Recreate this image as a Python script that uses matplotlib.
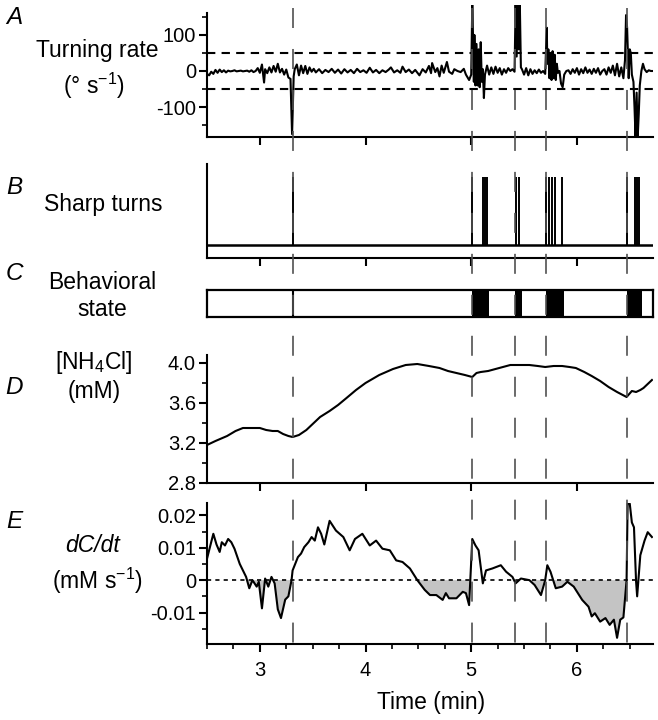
import numpy as np
import matplotlib
matplotlib.use("Agg")
import matplotlib.pyplot as plt
from matplotlib.lines import Line2D
from matplotlib.transforms import blended_transform_factory
from matplotlib.ticker import MultipleLocator, FixedLocator

plt.rcParams['font.family'] = ['Liberation Sans', 'DejaVu Sans']
plt.rcParams['axes.unicode_minus'] = False
plt.rcParams['mathtext.fontset'] = 'custom'
plt.rcParams['mathtext.rm'] = 'Liberation Sans'
plt.rcParams['mathtext.it'] = 'Liberation Sans:italic'

# ---------------- data ----------------
event_times = [3.31, 5.01, 5.41, 5.71, 6.47]

turn_t = [2.50, 2.52, 2.54, 2.56, 2.58, 2.60, 2.62, 2.64, 2.66, 2.68, 2.70, 2.72, 2.74, 2.76,
          2.78, 2.80, 2.82, 2.84, 2.86, 2.88, 2.90, 2.92, 2.94, 2.96, 2.98, 3.00, 3.02, 3.04,
          3.05, 3.07, 3.09, 3.11, 3.13, 3.15, 3.17, 3.19, 3.21, 3.23, 3.25, 3.27, 3.29, 3.305,
          3.32, 3.33, 3.35, 3.37, 3.39, 3.41, 3.43, 3.45, 3.47, 3.49, 3.51, 3.53, 3.56, 3.59,
          3.62, 3.65, 3.68, 3.71, 3.74, 3.77, 3.80, 3.83, 3.86, 3.89, 3.92, 3.95, 3.98, 4.01,
          4.04, 4.07, 4.10, 4.13, 4.16, 4.19, 4.22, 4.24, 4.27, 4.30, 4.33, 4.35, 4.38, 4.41,
          4.44, 4.47, 4.51, 4.54, 4.57, 4.60, 4.62, 4.63, 4.66, 4.68, 4.70, 4.72, 4.74, 4.77,
          4.79, 4.82, 4.84, 4.87, 4.90, 4.93, 4.95, 4.98, 5.00, 5.01, 5.02, 5.025, 5.03, 5.04,
          5.05, 5.06, 5.07, 5.08, 5.09, 5.10, 5.11, 5.12, 5.13, 5.15, 5.17, 5.19, 5.21, 5.23,
          5.25, 5.27, 5.29, 5.31, 5.33, 5.35, 5.37, 5.39, 5.41, 5.42, 5.43, 5.44, 5.45, 5.46,
          5.47, 5.48, 5.50, 5.52, 5.54, 5.56, 5.58, 5.60, 5.62, 5.64, 5.66, 5.68,
          5.70, 5.715, 5.72, 5.73, 5.74, 5.75, 5.76, 5.77, 5.78, 5.79, 5.80, 5.81, 5.82, 5.835,
          5.85, 5.865, 5.88, 5.90, 5.92, 5.94, 5.96, 5.98, 6.00, 6.02, 6.04, 6.06, 6.08, 6.10,
          6.12, 6.14, 6.16, 6.18, 6.20, 6.22, 6.24, 6.26, 6.28, 6.30, 6.32, 6.34, 6.36, 6.38,
          6.40, 6.42, 6.44, 6.455, 6.465, 6.475, 6.485, 6.49, 6.50, 6.51, 6.52, 6.535, 6.545,
          6.555, 6.565, 6.575, 6.585, 6.595, 6.61, 6.625, 6.64, 6.66, 6.68, 6.70, 6.72]
turn_v = [-8, -12, -2, -8, 3, -5, 4, -3, 2, -4, 1, -1, 0, 2,
          -1, 0, 1, -1, 0, 1, -2, 2, -3, 0, 8, -5, 18, -32,
          5, -6, 10, -4, 14, -2, 20, -4, 6, -10, 4, -18, -22, -175,
          -15, 5, 18, -12, 15, -6, 14, -8, 10, -2, 6, -4, 5, -6,
          3, -3, 6, -5, 4, -7, 5, -4, 3, -6, 6, -3, 2, -5,
          9, -4, 3, -6, 2, -3, 4, 10, -4, 2, -5, 12, -3, 4,
          -6, 3, -12, 5, -4, 14, -6, 22, -3, 8, -15, 15, -5, 25,
          -2, -8, 5, 0, -3, 6, -10, -25, -10, 185, 60, -30, 100, -40,
          75, -40, 60, -45, 80, -30, 5, -75, -10, 15, -10, 10, -8, 12,
          -5, 8, -10, 5, -5, 8, 0, 5, -2, 185, 40, 185, 60, 185,
          10, 5, -10, 8, -12, 5, -8, 2, -6, 4, -5, 0,
          -8, 120, 20, 60, -20, 50, -25, 55, -20, 45, -25, 20, -5, 0,
          -35, -45, -10, 0, 2, -8, 5, -5, 8, -10, 5, -6, 10, -5,
          4, -8, 6, -5, 8, -10, 0, 5, -10, 10, -5, 15, -12, 20,
          -15, 10, -20, 30, 155, 120, 20, -20, 60, 50, -10, -30, -100,
          -185, -60, -185, -120, -40, 0, 20, 5, -3, 2, 0, 0]

sharp_turn_times = [3.31, 5.01, 5.11, 5.13, 5.15, 5.42, 5.45, 5.71, 5.74, 5.76, 5.79,
                    5.86, 6.47, 6.55, 6.57, 6.59]

state_starts = [5.01, 5.41, 5.71, 6.47]
state_ends = [5.17, 5.48, 5.88, 6.62]

conc_t = [2.50, 2.58, 2.69, 2.77, 2.84, 2.92, 3.00, 3.06, 3.12, 3.17, 3.22, 3.27, 3.31,
          3.37, 3.44, 3.50, 3.57, 3.66, 3.74, 3.82, 3.91, 4.00, 4.13, 4.26, 4.38, 4.49,
          4.60, 4.70, 4.78, 4.86, 4.94, 5.01, 5.05, 5.09, 5.16, 5.23, 5.30, 5.37, 5.46,
          5.55, 5.63, 5.70, 5.78, 5.86, 5.93, 5.99, 6.07, 6.14, 6.22, 6.30, 6.38, 6.47,
          6.52, 6.56, 6.60, 6.63, 6.67, 6.71]
conc_v = [3.18, 3.22, 3.27, 3.32, 3.35, 3.35, 3.35, 3.33, 3.32, 3.32, 3.29, 3.27, 3.26,
          3.28, 3.33, 3.39, 3.46, 3.52, 3.58, 3.65, 3.73, 3.80, 3.88, 3.94, 3.98, 3.99,
          3.97, 3.95, 3.92, 3.90, 3.88, 3.86, 3.90, 3.91, 3.92, 3.94, 3.96, 3.98, 3.98,
          3.98, 3.97, 3.96, 3.97, 3.97, 3.96, 3.95, 3.91, 3.87, 3.82, 3.76, 3.71, 3.66,
          3.72, 3.71, 3.73, 3.75, 3.79, 3.83]

dcdt_t = [2.50, 2.52, 2.56, 2.59, 2.62, 2.64, 2.67, 2.70, 2.73, 2.76, 2.81, 2.87, 2.90,
          2.93, 2.97, 2.99, 3.02, 3.05, 3.08, 3.11, 3.14, 3.17, 3.20, 3.24, 3.27, 3.30,
          3.31, 3.36, 3.39, 3.42, 3.46, 3.49, 3.52, 3.55, 3.58, 3.61, 3.66, 3.72, 3.79,
          3.85, 3.90, 3.97, 4.04, 4.10, 4.16, 4.23, 4.29, 4.35, 4.42, 4.49, 4.56, 4.61,
          4.67, 4.73, 4.76, 4.79, 4.86, 4.92, 4.95, 4.98, 5.01, 5.04, 5.07, 5.11, 5.14,
          5.20, 5.28, 5.33, 5.39, 5.42, 5.47, 5.55, 5.60, 5.66, 5.70, 5.72, 5.75, 5.80,
          5.86, 5.91, 5.97, 6.05, 6.11, 6.14, 6.17, 6.22, 6.27, 6.31, 6.35, 6.38, 6.41,
          6.44, 6.47, 6.48, 6.50, 6.52, 6.54, 6.56, 6.57, 6.60, 6.64, 6.67, 6.71]
dcdt_v = [0.0066, 0.0092, 0.0143, 0.0110, 0.0087, 0.0117, 0.0107, 0.0127, 0.0117, 0.0097,
          0.0050, 0.0010, -0.0025, 0.0000, -0.0020, -0.0005, -0.0087, 0.0005, -0.0020,
          0.0010, -0.0010, -0.0090, -0.0117, -0.0060, -0.0050, 0.0000, 0.0030, 0.0071,
          0.0082, 0.0102, 0.0117, 0.0133, 0.0122, 0.0163, 0.0143, 0.0110, 0.0183, 0.0153,
          0.0133, 0.0092, 0.0127, 0.0143, 0.0107, 0.0122, 0.0097, 0.0092, 0.0061, 0.0056,
          0.0036, 0.0000, -0.0030, -0.0046, -0.0046, -0.0061, -0.0040, -0.0056, -0.0056,
          -0.0036, -0.0040, -0.0077, 0.0127, 0.0107, 0.0092, -0.0010, 0.0030, 0.0036,
          0.0046, 0.0026, 0.0010, -0.0010, 0.0005, 0.0000, -0.0015, -0.0046, 0.0000,
          0.0046, 0.0026, -0.0025, -0.0020, -0.0005, -0.0020, -0.0061, -0.0082, -0.0112,
          -0.0102, -0.0128, -0.0117, -0.0138, -0.0122, -0.0178, -0.0122, -0.0115, 0.0000,
          0.0236, 0.0236, 0.0178, 0.0163, -0.0005, -0.0050, 0.0077, 0.0122, 0.0148, 0.0133]

x_ticks = [3, 4, 5, 6]

# ---------------- figure ----------------
W, H = 658, 720
fig = plt.figure(figsize=(W / 100, H / 100), dpi=100)


def ax_at(x0, y_top, x1, y_bot):
    return fig.add_axes([x0 / W, 1 - y_bot / H, (x1 - x0) / W, (y_bot - y_top) / H])


XL = (2.5, 6.72)
LW_SP = 1.5
TICK_FS = 14.5
LAB_FS = 16.5


def style(ax, left=True, bottom=True):
    for s in ['top', 'right']:
        ax.spines[s].set_visible(False)
    ax.spines['left'].set_visible(left)
    ax.spines['bottom'].set_visible(bottom)
    for s in ['left', 'bottom']:
        ax.spines[s].set_linewidth(LW_SP)
    ax.tick_params(which='major', direction='out', length=6, width=1.5, labelsize=TICK_FS, pad=2)
    ax.tick_params(which='minor', direction='out', length=3.5, width=1.2)
    ax.set_xlim(*XL)
    ax.xaxis.set_major_locator(FixedLocator(x_ticks))


# Panel A
axA = ax_at(207, 5, 653, 137)
style(axA)
axA.plot(turn_t, turn_v, color='black', lw=1.5)
axA.set_ylim(-183, 183)
axA.spines['left'].set_bounds(-183, 161)
axA.set_yticks([-100, 0, 100])
axA.set_yticklabels(['-100', '0', '100'])
axA.yaxis.set_minor_locator(FixedLocator([-150, -50, 50, 150]))
axA.set_xticklabels([])
for yv in (50, -50):
    axA.axhline(yv, color='black', lw=1.5, linestyle=(0, (4, 3)))

# Panel B
axB = ax_at(207, 164, 653, 258)
style(axB)
axB.set_ylim(-0.2, 1.3)
axB.set_yticks([])
axB.set_xticklabels([])
axB.axhline(0, color='black', lw=1.8)
axB.vlines(sharp_turn_times, 0, 1.1, color='black', lw=1.4)

# Panel C
axC = ax_at(207, 290, 653, 317)
axC.set_xlim(*XL)
axC.set_ylim(0, 1)
axC.set_xticks([])
axC.set_yticks([])
for s in axC.spines.values():
    s.set_linewidth(1.6)
for a, b in zip(state_starts, state_ends):
    axC.axvspan(a, b, color='black', lw=0)
axC.axvline(event_times[0], color='black', lw=1.5)

# Panel D
axD = ax_at(207, 355, 653, 483)
style(axD)
axD.plot(conc_t, conc_v, color='black', lw=1.5)
axD.set_ylim(2.8, 4.08)
axD.set_yticks([2.8, 3.2, 3.6, 4.0])
axD.set_yticklabels(['2.8', '3.2', '3.6', '4.0'])
axD.yaxis.set_minor_locator(FixedLocator([3.0, 3.4, 3.8]))
axD.set_xticklabels([])

# Panel E
axE = ax_at(207, 503, 653, 644)
style(axE)
t_arr = np.array(dcdt_t)
v_arr = np.array(dcdt_v)
axE.fill_between(t_arr, v_arr, 0, where=v_arr < 0, interpolate=True,
                 color='#c4c4c4', lw=0)
axE.plot(t_arr, v_arr, color='black', lw=1.5)
axE.axhline(0, color='black', lw=1.2, linestyle=(0, (2.5, 2.5)))
axE.set_ylim(-0.0197, 0.0238)
axE.set_yticks([-0.01, 0, 0.01, 0.02])
axE.set_yticklabels(['-0.01', '0', '0.01', '0.02'])
axE.yaxis.set_minor_locator(FixedLocator([-0.015, -0.005, 0.005, 0.015]))
axE.xaxis.set_minor_locator(MultipleLocator(0.25))
axE.set_xticklabels([str(v) for v in x_ticks])
axE.tick_params(axis='x', pad=6)

# dashed event lines spanning all panels
tr = blended_transform_factory(axE.transData, fig.transFigure)
lw_d = 1.2
for t in event_times:
    ln = Line2D([t, t], [1 - 8 / H, 1 - 645 / H], transform=tr, color='#505050',
                lw=lw_d, linestyle=(0, (14.4 / lw_d, 15.1 / lw_d)), zorder=5)
    fig.add_artist(ln)

# ---------------- text ----------------
def ftxt(x, y, s, **kw):
    fig.text(x / W, 1 - y / H, s, ha='center', va='center', **kw)


for letter, yy in zip('ABCDE', [17, 188, 274, 388, 522]):
    ftxt(14, yy, letter, fontsize=17.5, style='italic')

ftxt(97, 50, 'Turning rate', fontsize=LAB_FS)
ftxt(94, 86, r'(° s$^{\mathregular{-1}}$)', fontsize=LAB_FS)
ftxt(103, 204, 'Sharp turns', fontsize=LAB_FS)
ftxt(102, 283, 'Behavioral', fontsize=LAB_FS)
ftxt(102, 309, 'state', fontsize=LAB_FS)
ftxt(94, 362, r'[NH$_{\mathregular{4}}$Cl]', fontsize=LAB_FS)
ftxt(94, 392, '(mM)', fontsize=LAB_FS)
ftxt(93, 546, 'dC/dt', fontsize=LAB_FS, style='italic')
ftxt(97, 581, r'(mM s$^{\mathregular{-1}}$)', fontsize=LAB_FS)
ftxt(431, 703, 'Time (min)', fontsize=LAB_FS)

fig.savefig('out.png', dpi=100)
